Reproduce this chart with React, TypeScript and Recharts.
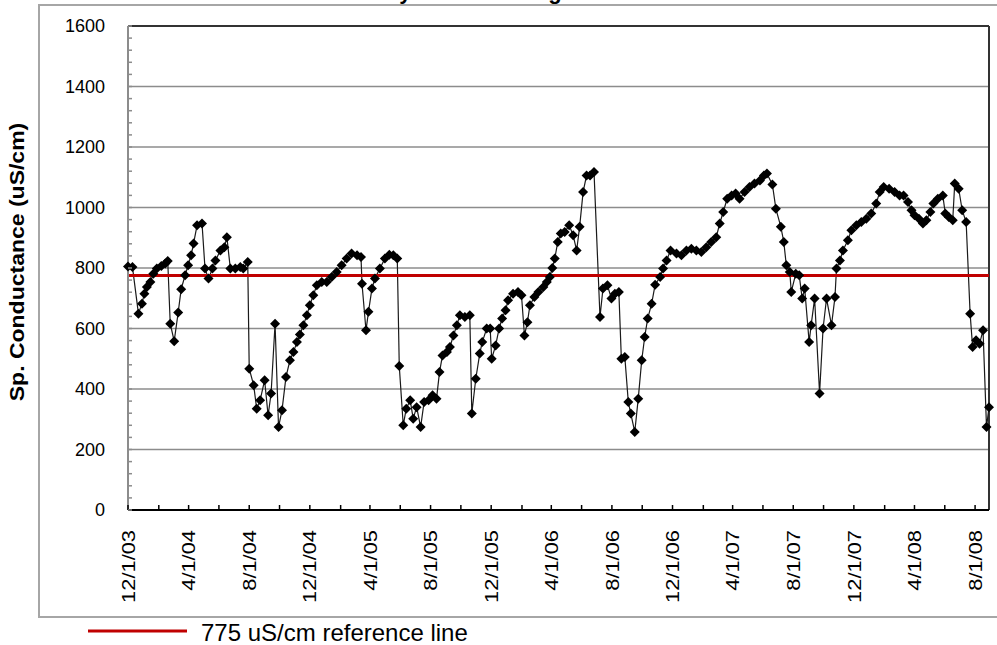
import { CartesianGrid, Line, LineChart, ReferenceLine, XAxis, YAxis } from "recharts"

const FONT = "'Liberation Sans', Arial, sans-serif"
const START = Date.UTC(2003, 11, 1)
const DAY_MS = 86400000

// days after 12/1/03 for each sample
const sampleDay = [
  0, 9, 21, 28, 33, 38, 45, 51, 58, 67, 75, 80, 85, 93, 101, 107, 115, 121, 127, 132,
  139, 149, 155, 162, 170, 176, 186, 194, 199, 206, 216, 226, 232, 241, 244, 253, 259, 266, 275, 282,
  288, 296, 303, 310, 318, 326, 333, 340, 346, 353, 360, 366, 373, 380, 390, 400, 410, 420, 430, 440,
  450, 461, 469, 471, 479, 484, 491, 497, 507, 517, 526, 534, 542, 546, 554, 560, 568, 574, 581, 589,
  596, 605, 613, 621, 627, 633, 642, 648, 655, 662, 668, 678, 688, 692, 700, 708, 713, 722, 729, 732,
  740, 747, 753, 760, 765, 775, 785, 792, 798, 804, 809, 818, 826, 836, 843, 849, 854, 859, 865, 871,
  879, 888, 896, 903, 909, 916, 923, 930, 938, 950, 956, 965, 973, 980, 988, 993, 1000, 1007, 1012, 1020,
  1027, 1034, 1040, 1046, 1054, 1061, 1071, 1077, 1084, 1092, 1104, 1114, 1124, 1134, 1144, 1154, 1164, 1174, 1184, 1191,
  1198, 1206, 1215, 1223, 1231, 1241, 1251, 1261, 1272, 1280, 1286, 1297, 1304, 1314, 1320, 1325, 1332, 1335, 1344, 1351,
  1357, 1362, 1371, 1375, 1382, 1392, 1399, 1406, 1416, 1423, 1426, 1433, 1439, 1449, 1456, 1466, 1476, 1486, 1496, 1506,
  1513, 1521, 1532, 1543, 1553, 1561, 1570, 1577, 1583, 1592, 1600, 1607, 1615, 1621, 1630, 1640, 1645, 1652, 1660, 1664,
  1672, 1679, 1687, 1695, 1700, 1707, 1714, 1721, 1728, 1733,
]

// uS/cm
const conductance = [
  805, 803, 649, 682, 715, 737, 754, 781, 798, 807, 815, 823, 616, 558, 653, 730, 776, 809, 842, 881,
  941, 947, 798, 765, 798, 825, 858, 869, 902, 798, 798, 803, 798, 820, 467, 412, 335, 363, 429, 313,
  385, 616, 274, 330, 440, 495, 522, 555, 580, 611, 644, 677, 710, 743, 754, 754, 770, 787, 809, 831,
  848, 842, 836, 748, 594, 655, 732, 765, 798, 831, 844, 842, 831, 476, 280, 335, 363, 302, 340, 274,
  357, 363, 379, 368, 456, 511, 522, 539, 577, 611, 644, 638, 644, 319, 434, 517, 555, 600, 600, 500,
  544, 600, 633, 660, 693, 715, 721, 710, 577, 621, 677, 704, 721, 737, 754, 770, 800, 831, 886, 914,
  919, 941, 908, 858, 936, 1051, 1106, 1106, 1117, 638, 732, 743, 699, 715, 721, 500, 506, 357, 319, 258,
  368, 495, 572, 633, 682, 745, 770, 798, 825, 858, 848, 842, 858, 864, 858, 853, 869, 886, 902, 947,
  985, 1029, 1040, 1046, 1029, 1051, 1068, 1079, 1089, 1106, 1112, 1076, 996, 936, 886, 809, 787, 721, 781, 776,
  699, 732, 555, 611, 699, 385, 600, 699, 611, 704, 798, 825, 858, 892, 925, 941, 952, 963, 980, 1013,
  1051, 1068, 1062, 1051, 1040, 1040, 1018, 991, 974, 963, 947, 958, 985, 1013, 1029, 1040, 980, 969, 958, 1079,
  1062, 991, 952, 649, 539, 561, 550, 594, 274, 340,
]

const referenceLevel = 775

const xTickLabels = [
  "12/1/03", "2/1/04", "4/1/04", "6/1/04", "8/1/04", "10/1/04", "12/1/04", "2/1/05", "4/1/05", "6/1/05",
  "8/1/05", "10/1/05", "12/1/05", "2/1/06", "4/1/06", "6/1/06", "8/1/06", "10/1/06", "12/1/06", "2/1/07",
  "4/1/07", "6/1/07", "8/1/07", "10/1/07", "12/1/07", "2/1/08", "4/1/08", "6/1/08", "8/1/08",
]

const yLabels = [0, 200, 400, 600, 800, 1000, 1200, 1400, 1600]
const yGridLines = [200, 400, 600, 800, 1000, 1200, 1400]
const yMinorStep = 40

const toDay = (label: string) => {
  const [m, d, y] = label.split("/").map(Number)
  return (Date.UTC(2000 + y, m - 1, d) - START) / DAY_MS
}

const xTickDays = xTickLabels.map(toDay)
const yTicks = Array.from({ length: 1600 / yMinorStep + 1 }, (_, i) => i * yMinorStep)
const lastDay = sampleDay[sampleDay.length - 1]

const data = sampleDay.map((day, i) => ({
  day,
  value: conductance[i],
  ref: referenceLevel,
}))

function DateTick({ x, y, payload }: any) {
  const i = xTickDays.indexOf(payload.value)
  const label = i % 2 === 0 ? xTickLabels[i] : null
  return (
    <g>
      <line x1={x} x2={x} y1={y} y2={y - 5} stroke="#000" strokeWidth={1.5} />
      {label && (
        <text
          transform={`translate(${x},${y + 20}) rotate(-90) scale(1.15,1)`}
          textAnchor="end"
          dy="0.35em"
          fontSize={19}
          fontFamily={FONT}
          fill="#000"
        >
          {label}
        </text>
      )}
    </g>
  )
}

function LevelTick({ x, y, payload }: any) {
  const major = yLabels.includes(payload.value)
  return (
    <g>
      <line x1={x} x2={x + 4} y1={y} y2={y} stroke="#8c8c8c" strokeWidth={1.5} />
      {major && (
        <text x={x - 23} y={y} dy="0.35em" textAnchor="end" fontSize={18} fontFamily={FONT} fill="#000">
          {payload.value}
        </text>
      )}
    </g>
  )
}

function Diamond(props: any) {
  const { cx, cy, index } = props
  if (cx == null || cy == null) return <g key={index} />
  return (
    <polygon
      key={index}
      points={`${cx},${cy - 5} ${cx + 5},${cy} ${cx},${cy + 5} ${cx - 5},${cy}`}
      fill="#000"
    />
  )
}

export default function App() {
  return (
    <div style={{ position: "absolute", left: 0, top: 0, width: 997, height: 645, background: "#fff" }}>
      <LineChart width={997} height={645} data={data} margin={{ top: 26, right: 8, bottom: 0, left: 0 }}>
        <CartesianGrid vertical={false} horizontalValues={yGridLines} stroke="#8c8c8c" strokeWidth={1.5} />
        <XAxis
          type="number"
          dataKey="day"
          domain={[0, lastDay]}
          ticks={xTickDays}
          interval={0}
          tick={DateTick}
          tickLine={false}
          tickSize={0}
          tickMargin={0}
          height={135}
          axisLine={{ stroke: "#000", strokeWidth: 2 }}
        />
        <YAxis
          type="number"
          domain={[0, 1600]}
          ticks={yTicks}
          interval={0}
          tick={LevelTick}
          tickLine={false}
          tickSize={0}
          tickMargin={0}
          width={128}
          axisLine={{ stroke: "#8c8c8c", strokeWidth: 2 }}
        />
        <ReferenceLine y={1600} stroke="#333" strokeWidth={2} />
        <ReferenceLine x={lastDay} stroke="#333" strokeWidth={2} />
        <Line
          dataKey="value"
          stroke="#1a1a1a"
          strokeWidth={1.2}
          dot={Diamond}
          activeDot={false}
          isAnimationActive={false}
        />
        <Line dataKey="ref" stroke="#c00000" strokeWidth={3} dot={false} activeDot={false} isAnimationActive={false} />
      </LineChart>
      <svg
        width={997}
        height={645}
        style={{ position: "absolute", left: 0, top: 0, pointerEvents: "none" }}
      >
        <polyline points="997,5 39,5 39,617 997,617" fill="none" stroke="#a6a6a6" strokeWidth={2} />
        <text x={336} y={-1} fontSize={22} fontWeight="bold" fontFamily={FONT} fill="#000">
          Weekly Field Readings
        </text>
        <text
          transform="translate(17,262) rotate(-90) scale(1.15,1)"
          textAnchor="middle"
          dy="0.35em"
          fontSize={20}
          fontWeight="bold"
          fontFamily={FONT}
          fill="#000"
        >
          Sp. Conductance (uS/cm)
        </text>
        <line x1={88} x2={187} y1={631} y2={631} stroke="#c00000" strokeWidth={3} />
        <text x={201} y={641} fontSize={24} fontFamily={FONT} fill="#000">
          775 uS/cm reference line
        </text>
      </svg>
    </div>
  )
}
